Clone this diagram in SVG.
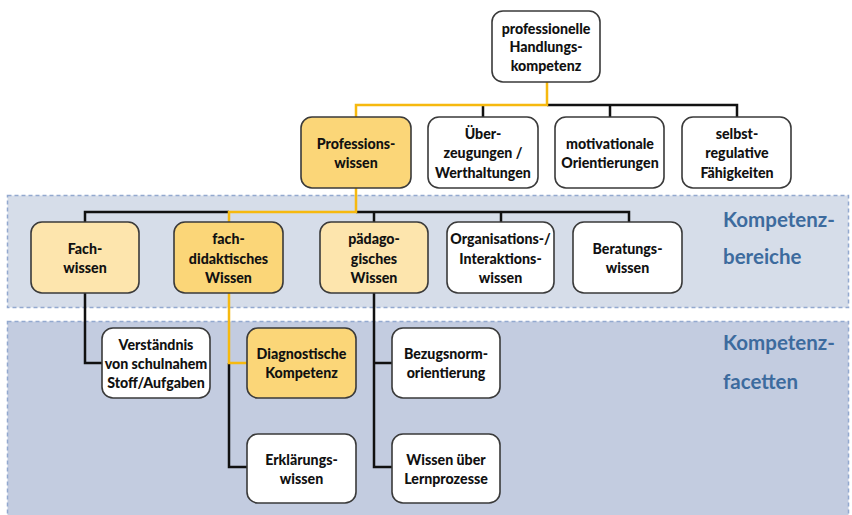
<svg xmlns="http://www.w3.org/2000/svg" width="852" height="515" viewBox="0 0 852 515">
<style>
.band{stroke:#93a9cf;stroke-width:1.5;stroke-dasharray:4 3}
.n rect{stroke:#3a3a3a;stroke-width:1.6}
.w{fill:#ffffff}
.y{fill:#fbd678}
.l{fill:#fde5ad}
.n text{font-family:Lato,"Open Sans",sans-serif;font-weight:900;font-size:14.2px;fill:#111;text-anchor:middle;dominant-baseline:central}
.k{stroke:#111;stroke-width:2.5;fill:none}
.g{stroke:#f6b90f;stroke-width:2.5;fill:none}
.lab{font-family:Lato,"Open Sans",sans-serif;font-weight:bold;font-size:20.5px;fill:#3d6b9e}
</style>
<rect width="852" height="515" fill="#ffffff"/>
<rect class="band" x="7.5" y="195.5" width="841" height="112" fill="#d6dde9"/>
<rect class="band" x="7.5" y="321.5" width="841" height="200" fill="#c3cce0"/>
<text class="lab" x="723" y="227">Kompetenz-</text>
<text class="lab" x="723" y="264">bereiche</text>
<text class="lab" x="723" y="350">Kompetenz-</text>
<text class="lab" x="723" y="389">facetten</text>
<g id="connectors">
<path class="k" d="M547 105H737V117M483 105V117M610 105V117"/>
<path class="g" d="M547 82V105H356V117"/>
<path class="k" d="M85 222V212H229M356 212H629V222M374 212V222M501 212V222"/>
<path class="g" d="M356 188V212H229V222"/>
<path class="k" d="M85 293V363H102"/>
<path class="k" d="M229 363V467H247"/>
<path class="g" d="M229 293V363H247"/>
<path class="k" d="M374 293V467H392M374 363H392"/>
</g>
<g id="n-handlungskompetenz" class="n"><rect class="w" x="492" y="11" width="108" height="71" rx="11"/><text x="546" y="28">professionelle</text><text x="546" y="46.5">Handlungs-</text><text x="546" y="65">kompetenz</text></g>
<g id="n-professionswissen" class="n"><rect class="y" x="301" y="117" width="110" height="71" rx="11"/><text x="356" y="143">Professions-</text><text x="356" y="162">wissen</text></g>
<g id="n-ueberzeugungen" class="n"><rect class="w" x="428" y="117" width="110" height="71" rx="11"/><text x="483" y="133">Über-</text><text x="483" y="152.5">zeugungen /</text><text x="483" y="172">Werthaltungen</text></g>
<g id="n-motivationale" class="n"><rect class="w" x="555" y="117" width="109" height="71" rx="11"/><text x="610" y="143">motivationale</text><text x="610" y="162">Orientierungen</text></g>
<g id="n-selbstregulative" class="n"><rect class="w" x="682" y="117" width="109" height="71" rx="11"/><text x="737" y="133">selbst-</text><text x="737" y="152.5">regulative</text><text x="737" y="172">Fähigkeiten</text></g>
<g id="n-fachwissen" class="n"><rect class="l" x="31" y="222" width="108" height="71" rx="11"/><text x="85" y="248">Fach-</text><text x="85" y="267">wissen</text></g>
<g id="n-fachdidaktisch" class="n"><rect class="y" x="174" y="222" width="109" height="71" rx="11"/><text x="228.5" y="238.5">fach-</text><text x="228.5" y="258">didaktisches</text><text x="228.5" y="277.5">Wissen</text></g>
<g id="n-paedagogisch" class="n"><rect class="l" x="320" y="222" width="108" height="71" rx="11"/><text x="374" y="238.5">pädago-</text><text x="374" y="258">gisches</text><text x="374" y="277.5">Wissen</text></g>
<g id="n-organisation" class="n"><rect class="w" x="447" y="222" width="107" height="71" rx="11"/><text x="500.5" y="238.5">Organisations-/</text><text x="500.5" y="258">Interaktions-</text><text x="500.5" y="277.5">wissen</text></g>
<g id="n-beratung" class="n"><rect class="w" x="573" y="222" width="109" height="71" rx="11"/><text x="627.5" y="248">Beratungs-</text><text x="627.5" y="267">wissen</text></g>
<g id="n-verstaendnis" class="n"><rect class="w" x="102" y="328" width="108" height="70" rx="11"/><text x="156" y="344">Verständnis</text><text x="156" y="363">von schulnahem</text><text x="156" y="382">Stoff/Aufgaben</text></g>
<g id="n-diagnostisch" class="n"><rect class="y" x="247" y="328" width="109" height="70" rx="11"/><text x="301.5" y="353.5">Diagnostische</text><text x="301.5" y="372.5">Kompetenz</text></g>
<g id="n-bezugsnorm" class="n"><rect class="w" x="392" y="328" width="108" height="70" rx="11"/><text x="446" y="353.5">Bezugsnorm-</text><text x="446" y="372.5">orientierung</text></g>
<g id="n-erklaerung" class="n"><rect class="w" x="247" y="434" width="109" height="69" rx="11"/><text x="301.5" y="459">Erklärungs-</text><text x="301.5" y="478">wissen</text></g>
<g id="n-lernprozesse" class="n"><rect class="w" x="392" y="434" width="108" height="69" rx="11"/><text x="446" y="459">Wissen über</text><text x="446" y="478">Lernprozesse</text></g>
</svg>
